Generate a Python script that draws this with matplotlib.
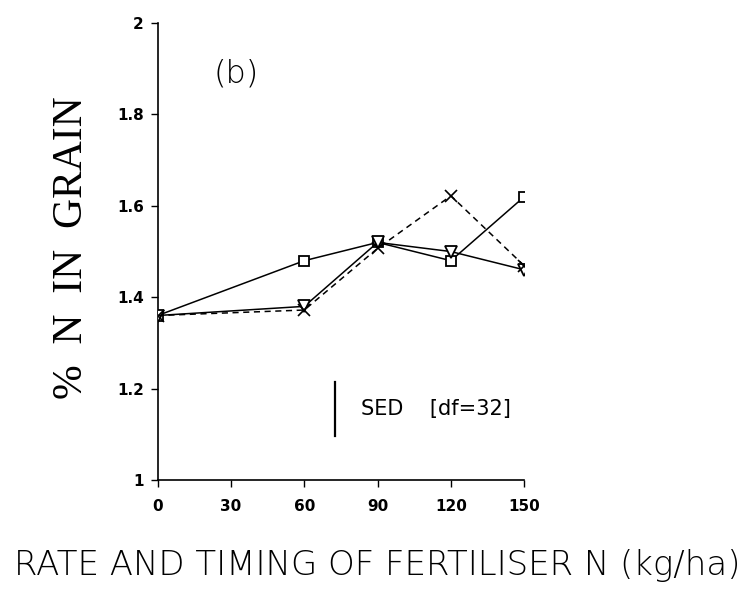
import matplotlib
matplotlib.use("Agg")
import matplotlib.pyplot as plt

# fertiliser N rate (kg/ha)
rate = [0, 60, 90, 120, 150]

# % N in grain, three timing treatments
n_square = [1.36, 1.48, 1.52, 1.48, 1.62]
n_triangle = [1.36, 1.38, 1.52, 1.50, 1.46]
n_cross = [1.36, 1.372, 1.507, 1.622, 1.469]

# SED bar
sed_x = 72.5
sed_low = 1.097
sed_high = 1.215

x_ticks = [0, 30, 60, 90, 120, 150]
y_ticks = [1, 1.2, 1.4, 1.6, 1.8, 2]
y_ticklabels = ["1", "1.2", "1.4", "1.6", "1.8", "2"]

fig = plt.figure(figsize=(7.51, 5.93), dpi=100)
ax = fig.add_axes([0.210, 0.1906, 0.488, 0.7704])

ax.plot(rate, n_square, color="black", lw=1.1, marker="s", ms=7,
        mfc="white", mec="black", mew=1.3, zorder=3)
ax.plot(rate, n_triangle, color="black", lw=1.1, marker="v", ms=8,
        mfc="white", mec="black", mew=1.3, zorder=3)
ax.plot(rate, n_cross, color="black", lw=1.1, ls=(0, (4, 3)), marker="x",
        ms=8, mec="black", mew=1.2, zorder=4)

# SED bar and label
ax.plot([sed_x, sed_x], [sed_low, sed_high], color="black", lw=1.6)
ax.text(83, 1.155, "SED    [df=32]", fontsize=15, va="center", ha="left",
        family="DejaVu Sans")
ax.text(23, 1.89, "(b)", fontsize=23, va="center", ha="left",
        family="DejaVu Sans", fontweight="light", color="black")

ax.set_xlim(0, 150)
ax.set_ylim(1, 2)
ax.set_xticks(x_ticks)
ax.set_yticks(y_ticks)
ax.set_yticklabels(y_ticklabels)
ax.tick_params(direction="out", length=5, width=1, labelsize=11)
ax.tick_params(axis="x", pad=9)
ax.tick_params(axis="y", pad=5)
for lab in ax.get_xticklabels() + ax.get_yticklabels():
    lab.set_fontweight("bold")
ax.spines["top"].set_visible(False)
ax.spines["right"].set_visible(False)
ax.spines["left"].set_linewidth(1.2)
ax.spines["bottom"].set_linewidth(1.2)

fig.text(0.096, 0.582, "%  N  IN  GRAIN", rotation=90, fontsize=30,
         ha="center", va="center", family="Liberation Serif")
fig.text(0.502, 0.047, "RATE AND TIMING OF FERTILISER N (kg/ha)",
         fontsize=24.5, ha="center", va="center", family="DejaVu Sans",
         fontweight="light")

plt.savefig("out.png", dpi=100)
